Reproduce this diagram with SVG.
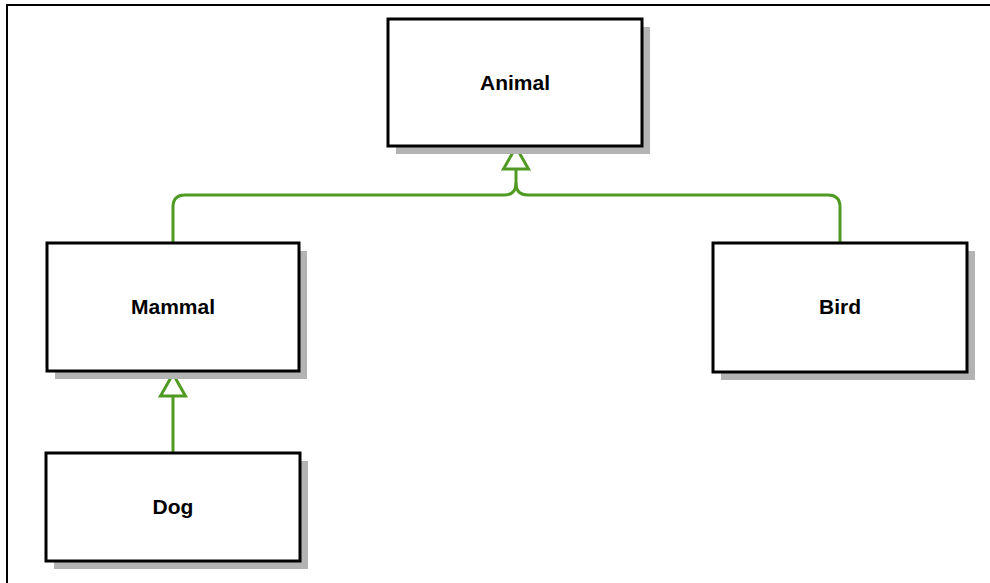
<svg xmlns="http://www.w3.org/2000/svg" width="990" height="583" viewBox="0 0 990 583">
<defs>
<style>
.shadow{fill:#b3b3b3;stroke:none}
.box{fill:#ffffff;stroke:#000000;stroke-width:3}
.lbl{font-family:"Liberation Sans",Arial,sans-serif;font-weight:bold;font-size:21px;fill:#000000;text-anchor:middle}
.edge{fill:none;stroke:#4e9a22;stroke-width:3;stroke-linejoin:round}
.head{fill:#ffffff;stroke:#4e9a22;stroke-width:3;stroke-linejoin:miter}
</style>
</defs>
<rect width="990" height="583" fill="#ffffff"/>
<path d="M7 583 V5 H990" fill="none" stroke="#000000" stroke-width="2"/>
<g id="connectors">
<path class="edge" d="M173 243 V207 Q173 195 185 195 H504 Q516 195 516 183 V169"/>
<path class="edge" d="M840 243 V207 Q840 195 828 195 H528 Q516 195 516 183"/>
<polygon class="head" points="516,147 503.5,169 528.5,169"/>
<path class="edge" d="M173 453 V396"/>
<polygon class="head" points="173,374 160.5,396 185.5,396"/>
</g>
<g id="animal">
<rect class="shadow" x="396" y="27" width="254" height="127"/>
<rect class="box" x="388" y="19" width="254" height="127"/>
<text class="lbl" x="515" y="90">Animal</text>
</g>
<g id="mammal">
<rect class="shadow" x="55" y="251" width="252" height="128"/>
<rect class="box" x="47" y="243" width="252" height="128"/>
<text class="lbl" x="173" y="314">Mammal</text>
</g>
<g id="bird">
<rect class="shadow" x="721" y="251" width="254" height="129"/>
<rect class="box" x="713" y="243" width="254" height="129"/>
<text class="lbl" x="840" y="314">Bird</text>
</g>
<g id="dog">
<rect class="shadow" x="54" y="461" width="254" height="108"/>
<rect class="box" x="46" y="453" width="254" height="108"/>
<text class="lbl" x="173" y="514">Dog</text>
</g>
</svg>
